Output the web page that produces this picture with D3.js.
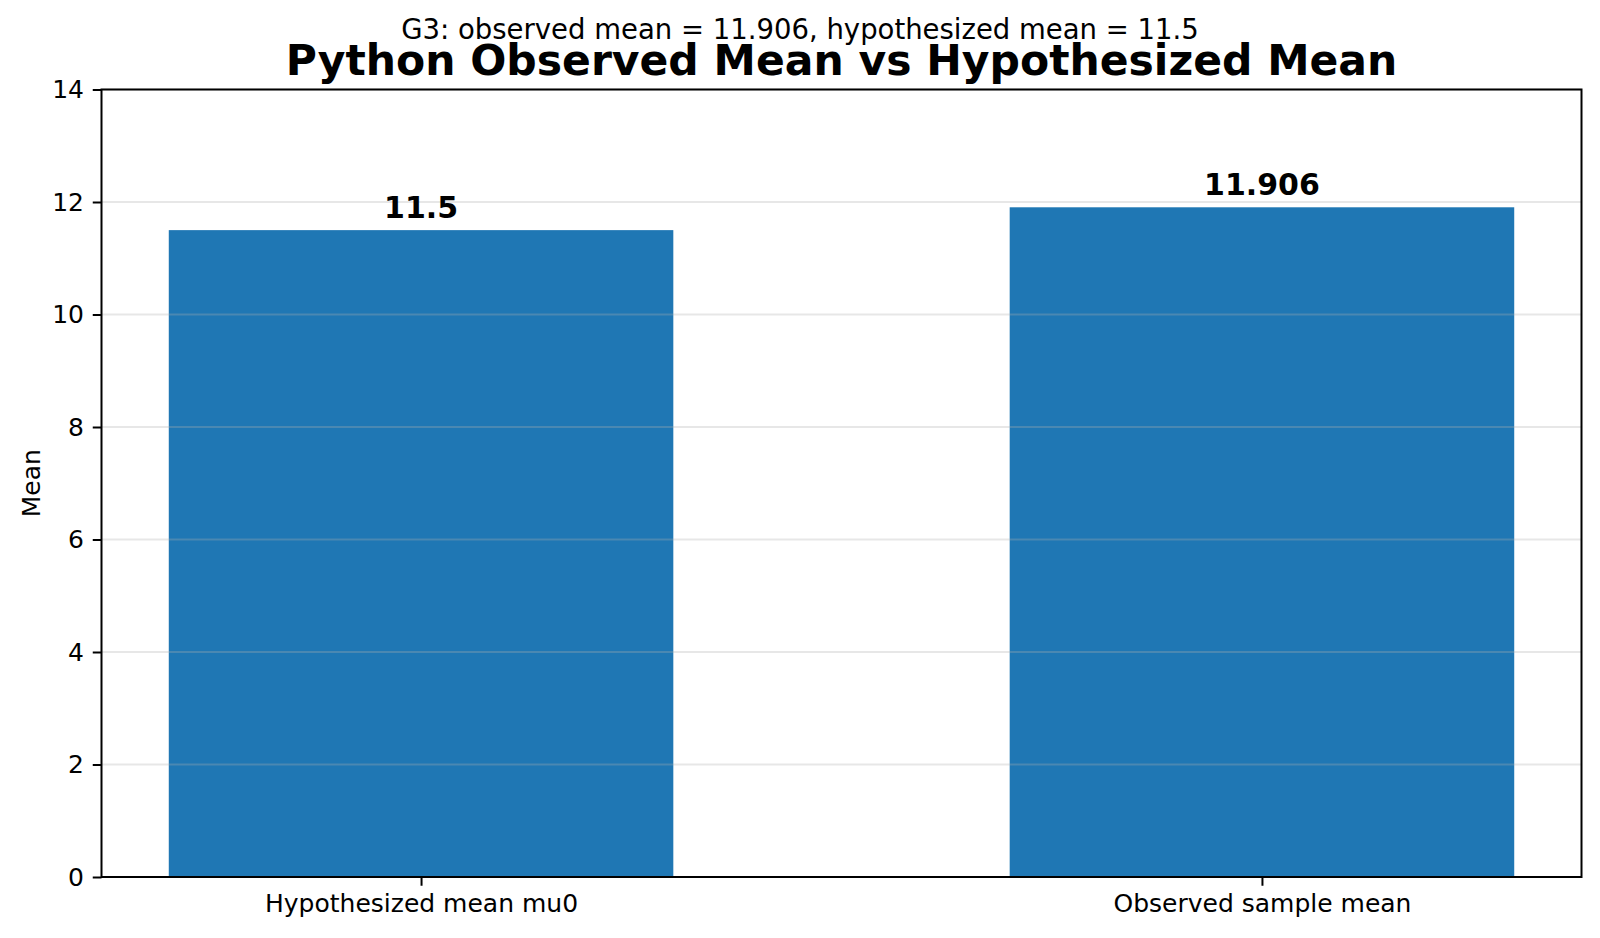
<!DOCTYPE html>
<html>
<head>
<meta charset="utf-8">
<script src="https://cdn.jsdelivr.net/npm/d3@7"></script>
<style>
  html, body { margin: 0; padding: 0; background: #fff; }
  svg { display: block; font-family: "DejaVu Sans", sans-serif; }
</style>
</head>
<body>
<svg id="chart" width="1600" height="938"></svg>
<script>
const categories = ["Hypothesized mean mu0", "Observed sample mean"];
const meanValues = [11.5, 11.906];
const barLabels = ["11.5", "11.906"];
const yTicks = [0, 2, 4, 6, 8, 10, 12, 14];
const titleText = "Python Observed Mean vs Hypothesized Mean";
const subtitleText = "G3: observed mean = 11.906, hypothesized mean = 11.5";
const yLabelText = "Mean";

const svg = d3.select("#chart");
const plot = { left: 101.5, right: 1581.5, top: 89.5, bottom: 877 };
const barWidth = 0.6;

const dataMin = -barWidth / 2, dataMax = (categories.length - 1) + barWidth / 2;
const pad = 0.05 * (dataMax - dataMin);
const x = d3.scaleLinear()
  .domain([dataMin - pad, dataMax + pad])
  .range([plot.left, plot.right]);
const y = d3.scaleLinear().domain([0, 14]).range([plot.bottom, plot.top]);

// bars
svg.append("g").selectAll("rect")
  .data(meanValues)
  .join("rect")
  .attr("x", (d, i) => x(i - barWidth / 2))
  .attr("width", (d, i) => x(i + barWidth / 2) - x(i - barWidth / 2))
  .attr("y", d => y(d))
  .attr("height", d => y(0) - y(d))
  .attr("fill", "#1f77b4");

// grid
svg.append("g").selectAll("line")
  .data(yTicks)
  .join("line")
  .attr("x1", plot.left).attr("x2", plot.right)
  .attr("y1", d => y(d)).attr("y2", d => y(d))
  .attr("stroke", "#b0b0b0")
  .attr("stroke-opacity", 0.3)
  .attr("stroke-width", 2);

// bar value labels
svg.append("g").selectAll("text")
  .data(meanValues)
  .join("text")
  .attr("x", (d, i) => x(i))
  .attr("y", d => y(d) - 12.5)
  .attr("text-anchor", "middle")
  .attr("font-size", 30)
  .attr("font-weight", "bold")
  .attr("fill", "#000")
  .text((d, i) => barLabels[i]);

// y axis
const yAxis = d3.axisLeft(y).tickValues(yTicks).tickFormat(d3.format("d"))
  .tickSize(8.75).tickPadding(8.75);
const gy = svg.append("g").attr("transform", `translate(${plot.left},0)`).call(yAxis);
gy.select(".domain").remove();
gy.selectAll(".tick line").attr("stroke", "#000").attr("stroke-width", 2);
gy.selectAll(".tick text").attr("font-size", 25).attr("fill", "#000")
  .attr("font-family", "DejaVu Sans, sans-serif");

// x axis
const xAxis = d3.axisBottom(x).tickValues(categories.map((c, i) => i))
  .tickFormat(i => categories[i]).tickSize(8.75).tickPadding(8.75);
const gx = svg.append("g").attr("transform", `translate(0,${plot.bottom})`).call(xAxis);
gx.select(".domain").remove();
gx.selectAll(".tick line").attr("stroke", "#000").attr("stroke-width", 2);
gx.selectAll(".tick text").attr("font-size", 25).attr("fill", "#000")
  .attr("font-family", "DejaVu Sans, sans-serif");

// frame
svg.append("rect")
  .attr("x", plot.left).attr("y", plot.top)
  .attr("width", plot.right - plot.left).attr("height", plot.bottom - plot.top)
  .attr("fill", "none").attr("stroke", "#000").attr("stroke-width", 2);

// y label
svg.append("text")
  .attr("transform", `translate(40,${(plot.top + plot.bottom) / 2}) rotate(-90)`)
  .attr("text-anchor", "middle")
  .attr("font-size", 25)
  .attr("fill", "#000")
  .text(yLabelText);

// title
svg.append("text")
  .attr("x", (plot.left + plot.right) / 2)
  .attr("y", 74.5)
  .attr("text-anchor", "middle")
  .attr("font-size", 42.5)
  .attr("font-weight", "bold")
  .attr("fill", "#000")
  .text(titleText);

// subtitle
svg.append("text")
  .attr("x", 800)
  .attr("y", 38.5)
  .attr("text-anchor", "middle")
  .attr("font-size", 27.5)
  .attr("fill", "#000")
  .text(subtitleText);
</script>
</body>
</html>
